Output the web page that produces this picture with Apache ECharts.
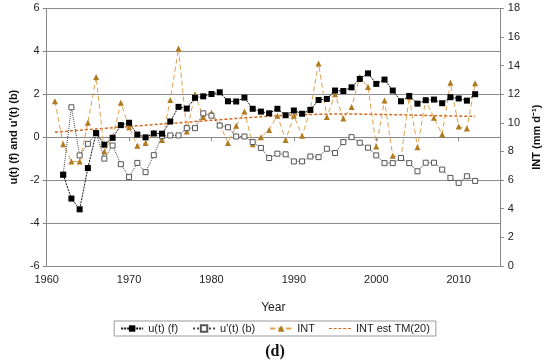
<!DOCTYPE html>
<html>
<head>
<meta charset="utf-8">
<script src="https://cdn.jsdelivr.net/npm/echarts@6/dist/echarts.min.js"></script>
<style>html,body{margin:0;padding:0;background:#fff;}#c{width:550px;height:363px;}</style>
</head>
<body>
<div id="c"></div>
<script>
// Years
var intYears = [1961,1962,1963,1964,1965,1966,1967,1968,1969,1970,1971,1972,1973,1974,1975,1976,1977,1978,1979,1980,1981,1982,1983,1984,1985,1986,1987,1988,1989,1990,1991,1992,1993,1994,1995,1996,1997,1998,1999,2000,2001,2002,2003,2004,2005,2006,2007,2008,2009,2010,2011,2012];
var uYears = [1962,1963,1964,1965,1966,1967,1968,1969,1970,1971,1972,1973,1974,1975,1976,1977,1978,1979,1980,1981,1982,1983,1984,1985,1986,1987,1988,1989,1990,1991,1992,1993,1994,1995,1996,1997,1998,1999,2000,2001,2002,2003,2004,2005,2006,2007,2008,2009,2010,2011,2012];
// u(t) (f) forward sequence
var uF = [-1.75,-2.86,-3.36,-1.44,0.19,-0.35,-0.03,0.56,0.67,0.12,-0.01,0.17,0.16,0.73,1.41,1.33,1.83,1.90,2.01,2.09,1.67,1.66,1.84,1.32,1.19,1.11,1.32,1.02,1.24,1.09,1.27,1.73,1.78,2.17,2.15,2.32,2.71,2.97,2.48,2.68,2.17,1.67,1.92,1.56,1.72,1.75,1.58,1.86,1.80,1.70,2.00];
// u'(t) (b) backward sequence
var uB = [-1.75,1.39,-0.85,-0.31,0.19,-1.00,-0.39,-1.26,-1.86,-1.20,-1.63,-0.84,0.05,0.08,0.08,0.42,0.42,1.11,1.00,0.54,0.46,0.03,0.03,-0.23,-0.50,-0.97,-0.77,-0.80,-1.13,-1.13,-0.90,-0.93,-0.54,-0.74,-0.23,0.00,-0.26,-0.49,-0.85,-1.21,-1.21,-0.97,-1.21,-1.59,-1.19,-1.19,-1.51,-1.90,-2.13,-1.82,-2.04];
// INT (mm d-1)
var intVals = [11.5,8.5,7.3,7.3,10.0,13.2,8.0,9.0,11.4,9.7,8.4,8.6,9.3,8.8,11.6,15.2,9.4,12.0,10.4,10.7,9.9,8.6,9.8,10.8,8.5,9.0,9.5,10.5,8.8,10.5,9.1,10.9,14.15,10.4,12.0,10.3,11.1,13.2,12.5,8.35,11.56,7.7,7.56,11.8,8.3,11.6,10.35,9.2,12.8,9.74,9.6,12.76];
// INT est TM(20)
var intTrend = [9.35,9.39,9.44,9.48,9.53,9.57,9.61,9.66,9.70,9.74,9.79,9.83,9.87,9.92,9.96,10.00,10.05,10.09,10.13,10.18,10.22,10.26,10.31,10.35,10.39,10.43,10.46,10.49,10.52,10.55,10.57,10.58,10.60,10.61,10.62,10.62,10.62,10.61,10.60,10.59,10.58,10.57,10.56,10.55,10.53,10.52,10.50,10.49,10.48,10.47,10.46,10.45];
// Axis ticks
var xTicks = [1960,1970,1980,1990,2000,2010];
var leftTicks = [-6,-4,-2,0,2,4,6];
var rightTicks = [0,2,4,6,8,10,12,14,16,18];

function pairs(xs, ys){ return xs.map(function(x,i){ return [x, ys[i]]; }); }

var font = 'Liberation Sans, Arial, sans-serif';
var dashIcon = 'path://M0,3.4h3v1.2h-3z M4.75,3.4h3v1.2h-3z M9.5,3.4h3v1.2h-3z M14.25,3.4h3v1.2h-3z M19,3.4h3v1.2h-3z M0,0h0.01v8h-0.01z M21.99,0h0.01v8h-0.01z';
var chart = echarts.init(document.getElementById('c'), null, {renderer:'canvas'});
chart.setOption({
  animation: false,
  backgroundColor: '#fff',
  title: {
    text: '(d)', left: 'center', top: 339,
    textStyle: {fontFamily: 'Liberation Serif, Times New Roman, serif', fontWeight: 'bold', fontSize: 16, color: '#111'}
  },
  grid: {left: 42.7, right: 42.7, top: 8.3, bottom: 97, containLabel: false},
  legend: {
    top: 321, left: 'center',
    borderColor: '#999', borderWidth: 1, padding: [2, 6, 2, 6],
    itemGap: 14, itemWidth: 22, itemHeight: 8,
    textStyle: {fontFamily: font, fontSize: 11, color: '#222'},
    data: ['u(t) (f)', "u'(t) (b)", 'INT', {name: 'INT est TM(20)', icon: dashIcon}]
  },
  xAxis: {
    type: 'value', min: xTicks[0], max: 2015, interval: 10,
    name: 'Year', nameLocation: 'middle', nameGap: 36,
    nameTextStyle: {fontFamily: font, fontSize: 12, color: '#222'},
    axisLine: {lineStyle: {color: '#888'}},
    axisTick: {show: true, length: 4, lineStyle: {color: '#888'}},
    axisLabel: {fontFamily: font, fontSize: 11, color: '#222', margin: 8,
      formatter: function(v){ return xTicks.indexOf(v) >= 0 ? String(v) : ''; }},
    splitLine: {show: false}
  },
  yAxis: [{
    type: 'value', min: leftTicks[0], max: leftTicks[leftTicks.length-1], interval: 2,
    name: "u(t) (f) and u'(t) (b)", nameLocation: 'middle', nameGap: 27, nameRotate: 90,
    nameTextStyle: {fontFamily: font, fontSize: 11, fontWeight: 'bold', color: '#111'},
    axisLine: {show: true, lineStyle: {color: '#888'}},
    axisTick: {show: true, length: 4, lineStyle: {color: '#888'}},
    axisLabel: {fontFamily: font, fontSize: 11, color: '#222', margin: 7},
    splitLine: {show: true, lineStyle: {color: '#8c8c8c', width: 1}}
  }, {
    type: 'value', min: rightTicks[0], max: rightTicks[rightTicks.length-1], interval: 2,
    position: 'right',
    name: 'INT (mm d\u207B\u00B9)', nameLocation: 'middle', nameGap: 28, nameRotate: 90,
    nameTextStyle: {fontFamily: font, fontSize: 11, fontWeight: 'bold', color: '#111'},
    axisLine: {show: true, lineStyle: {color: '#888'}},
    axisTick: {show: true, length: 4, lineStyle: {color: '#888'}},
    axisLabel: {fontFamily: font, fontSize: 11, color: '#222', margin: 8},
    splitLine: {show: false}
  }],
  series: [{
    name: 'INT est TM(20)', type: 'line', yAxisIndex: 1,
    data: pairs(intYears, intTrend), showSymbol: false, symbol: 'none',
    lineStyle: {color: '#D2691E', width: 1.5, type: [3, 2]},
    itemStyle: {color: '#D2691E'}, z: 3
  }, {
    name: 'INT', type: 'line', yAxisIndex: 1,
    data: pairs(intYears, intVals),
    symbol: 'triangle', symbolSize: 6,
    lineStyle: {color: '#E0A050', width: 1, type: [5, 3]},
    itemStyle: {color: '#B07A1E'}, z: 4
  }, {
    name: "u'(t) (b)", type: 'line', yAxisIndex: 0,
    data: pairs(uYears, uB),
    symbol: 'rect', symbolSize: 5,
    lineStyle: {color: '#444', width: 1, type: 'dotted'},
    itemStyle: {color: '#fff', borderColor: '#555', borderWidth: 1}, z: 5
  }, {
    name: 'u(t) (f)', type: 'line', yAxisIndex: 0,
    data: pairs(uYears, uF),
    symbol: 'rect', symbolSize: 6,
    lineStyle: {color: '#111', width: 1, type: [2, 1]},
    itemStyle: {color: '#000'}, z: 6
  }]
});
</script>
</body>
</html>
